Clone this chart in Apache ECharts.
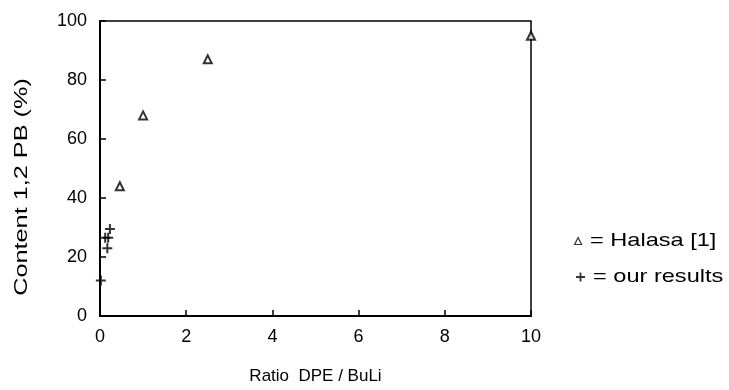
<!DOCTYPE html>
<html><head><meta charset="utf-8">
<script src="https://cdn.jsdelivr.net/npm/echarts@6/dist/echarts.min.js"></script>
<style>html,body{margin:0;padding:0;background:#fff}#c{width:729px;height:390px}</style>
</head><body><div id="c"></div>
<script>
const halasaX = [0.46, 1.0, 2.5, 10];
const halasaY = [44, 68, 87, 95];
const oursX = [0.02, 0.12, 0.19, 0.17, 0.23];
const oursY = [12, 26.5, 26.5, 23, 29.5];
const xTicks = [0, 2, 4, 6, 8, 10];
const yTicks = [0, 20, 40, 60, 80, 100];
const xTitle = 'Ratio  DPE / BuLi';
const yTitle = 'Content 1,2 PB (%)';
const legendTexts = ['= Halasa [1]', '= our results'];

const plusPath = 'path://M4,0H6V4H10V6H6V10H4V6H0V4H4Z';
const font = 'Liberation Sans, Arial, sans-serif';
const chart = echarts.init(document.getElementById('c'));
chart.setOption({
  animation: false,
  backgroundColor: '#fff',
  grid: {left: 100, right: 198, top: 21, bottom: 72, show: true, borderColor: '#000', borderWidth: 1.5, backgroundColor: 'transparent'},
  xAxis: {
    type: 'value', min: 0, max: 10, interval: 2,
    name: xTitle, nameLocation: 'middle', nameGap: 52,
    nameTextStyle: {color: '#000', fontSize: 17, fontFamily: font},
    axisLine: {show: true, lineStyle: {color: '#000', width: 2}},
    axisTick: {show: true, inside: true, length: 6, lineStyle: {color: '#000', width: 1.5}},
    axisLabel: {color: '#000', fontSize: 18, fontFamily: font, margin: 12, formatter: v => xTicks.includes(v) ? String(v) : ''},
    splitLine: {show: false}
  },
  yAxis: {
    type: 'value', min: 0, max: 100, interval: 20,
    axisLine: {show: true, lineStyle: {color: '#000', width: 2}},
    axisTick: {show: true, inside: true, length: 6, lineStyle: {color: '#000', width: 1.5}},
    axisLabel: {color: '#000', fontSize: 18, fontFamily: font, margin: 13, formatter: v => yTicks.includes(v) ? String(v) : ''},
    splitLine: {show: false}
  },
  legend: [
    {left: 569, top: 231, itemWidth: 7, itemHeight: 7, formatter: () => ' ',
     textStyle: {fontSize: 10},
     data: [{name: 'Halasa [1]', icon: 'triangle', itemStyle: {color: '#fff', borderColor: '#000', borderWidth: 1.2}}]},
    {left: 571, top: 267, itemWidth: 9, itemHeight: 9, formatter: () => ' ',
     textStyle: {fontSize: 10},
     data: [{name: 'our results', icon: plusPath, itemStyle: {color: '#000'}}]}
  ],
  graphic: [
    {type: 'text', x: 22, y: 187, rotation: Math.PI / 2, scaleX: 1.33, scaleY: 1,
     style: {text: yTitle, fill: '#000', fontSize: 19, fontFamily: font, align: 'center', verticalAlign: 'middle', textAlign: 'center', textVerticalAlign: 'middle'}},
    {type: 'text', x: 590, y: 241, scaleX: 1.24,
     style: {text: legendTexts[0], fill: '#000', fontSize: 19, fontFamily: font, align: 'left', verticalAlign: 'middle', textAlign: 'left', textVerticalAlign: 'middle'}},
    {type: 'text', x: 593, y: 277, scaleX: 1.24,
     style: {text: legendTexts[1], fill: '#000', fontSize: 19, fontFamily: font, align: 'left', verticalAlign: 'middle', textAlign: 'left', textVerticalAlign: 'middle'}}
  ],
  series: [
    {name: 'Halasa [1]', type: 'scatter', symbol: 'triangle', symbolSize: 8,
     itemStyle: {color: '#fff', borderColor: '#000', borderWidth: 2},
     data: halasaX.map((x, i) => [x, halasaY[i]])},
    {name: 'our results', type: 'scatter', symbol: plusPath, symbolSize: 10,
     itemStyle: {color: '#000'},
     data: oursX.map((x, i) => [x, oursY[i]])}
  ]
});
</script></body></html>
